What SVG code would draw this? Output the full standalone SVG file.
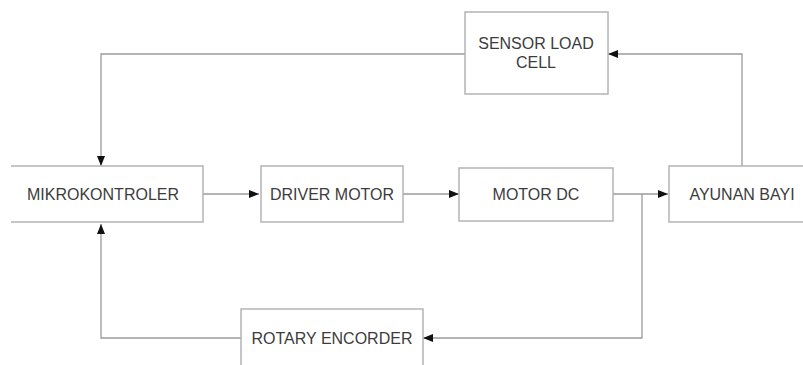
<svg xmlns="http://www.w3.org/2000/svg" width="803" height="365" viewBox="0 0 803 365">
<defs>
<marker id="ah" markerWidth="10" markerHeight="8" refX="10" refY="4" orient="auto" markerUnits="userSpaceOnUse">
<path d="M0,0 L10,4 L0,8 Z" fill="#111"/>
</marker>
<style>
.box{fill:#fff;stroke:#b4b4b4;stroke-width:1.5}
.lbl{font-family:"Liberation Sans",Arial,sans-serif;font-size:16px;fill:#3c3c3c;text-anchor:middle}
.c{fill:none;stroke:#9a9a9a;stroke-width:1.3}
</style>
</defs>
<rect width="803" height="365" fill="#fff"/>
<g id="connectors">
<path class="c" d="M465,54 H101 V166" marker-end="url(#ah)"/>
<path class="c" d="M742,166 V54 H608" marker-end="url(#ah)"/>
<path class="c" d="M203,194 H259" marker-end="url(#ah)"/>
<path class="c" d="M403,194 H459" marker-end="url(#ah)"/>
<path class="c" d="M613,194 H668" marker-end="url(#ah)"/>
<path class="c" d="M642,194 V338 H423" marker-end="url(#ah)"/>
<path class="c" d="M241,338 H101 V224" marker-end="url(#ah)"/>
</g>
<g id="sensor">
<rect class="box" x="465" y="12" width="143" height="82"/>
<text class="lbl" x="536" y="49">SENSOR LOAD</text>
<text class="lbl" x="536" y="68">CELL</text>
</g>
<g id="mikrokontroler">
<path class="box" d="M11,166 H203 V222 H11"/>
<text class="lbl" x="103" y="200">MIKROKONTROLER</text>
</g>
<g id="driver">
<rect class="box" x="261" y="166" width="142" height="56"/>
<text class="lbl" x="332" y="200">DRIVER MOTOR</text>
</g>
<g id="motordc">
<rect class="box" x="459" y="168" width="154" height="53"/>
<text class="lbl" x="536" y="200">MOTOR DC</text>
</g>
<g id="ayunan">
<rect class="box" x="669" y="166" width="145" height="56"/>
<text class="lbl" x="742" y="200">AYUNAN BAYI</text>
</g>
<g id="rotary">
<rect class="box" x="241" y="309" width="182" height="70"/>
<text class="lbl" x="332" y="344">ROTARY ENCORDER</text>
</g>
</svg>
